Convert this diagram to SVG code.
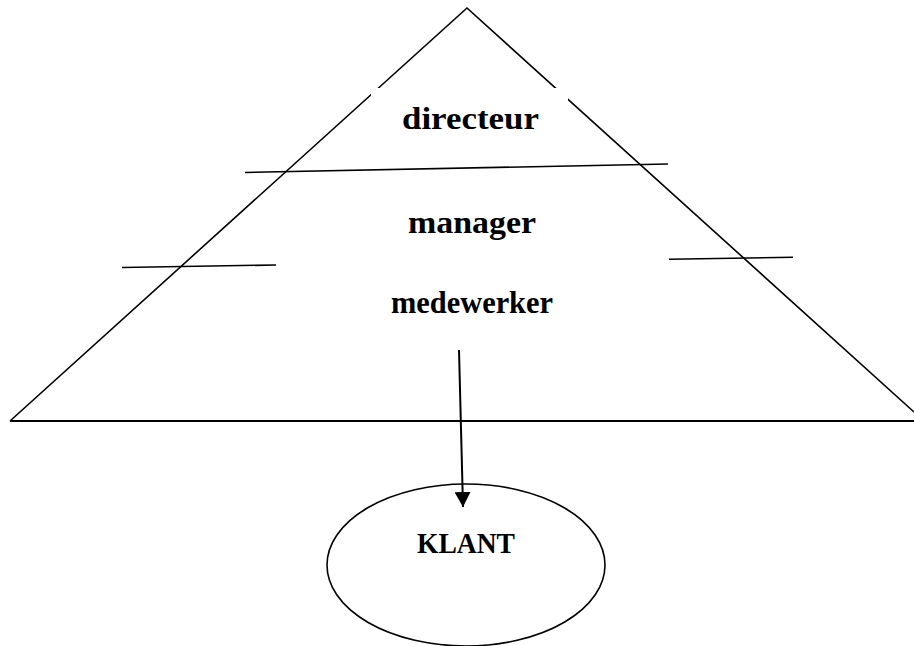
<svg xmlns="http://www.w3.org/2000/svg" width="914" height="646" viewBox="0 0 914 646">
<style>
.ln{stroke:#000;stroke-width:1.6;fill:none;stroke-linecap:butt}
.lbl{font-family:"Liberation Serif","Times New Roman",serif;font-weight:bold;font-size:32px;fill:#000;text-anchor:middle}
</style>
<defs>
<marker id="arr" markerWidth="16" markerHeight="16" refX="15" refY="8" orient="auto" markerUnits="userSpaceOnUse">
<path d="M0,0 L15,8 L0,16 Z" fill="#000"/>
</marker>
</defs>
<rect width="914" height="646" fill="#fff"/>
<g id="pyramid">
<path class="ln" d="M10,421 L467,8 L914,412"/>
<line class="ln" x1="10" y1="421" x2="914" y2="421" style="stroke-width:2"/>
<line class="ln" x1="245" y1="172.5" x2="668" y2="164"/>
<line class="ln" x1="122" y1="267.5" x2="276" y2="265"/>
<line class="ln" x1="669" y1="259.3" x2="793" y2="257.3"/>
</g>
<g id="directeur">
<rect x="371" y="88" width="197" height="50" fill="#fff"/>
<text class="lbl" x="470.5" y="129" textLength="137" lengthAdjust="spacingAndGlyphs">directeur</text>
</g>
<g id="manager">
<text class="lbl" x="472" y="233" textLength="128" lengthAdjust="spacingAndGlyphs">manager</text>
</g>
<g id="medewerker">
<text class="lbl" x="472" y="313" textLength="162" lengthAdjust="spacingAndGlyphs">medewerker</text>
</g>
<g id="klant">
<ellipse class="ln" cx="466" cy="565" rx="139" ry="81"/>
<text class="lbl" x="466" y="553" style="font-size:29px" textLength="98" lengthAdjust="spacingAndGlyphs">KLANT</text>
</g>
<g id="connectors">
<line class="ln" x1="459" y1="350" x2="463" y2="507" marker-end="url(#arr)" style="stroke-width:2"/>
</g>
</svg>
